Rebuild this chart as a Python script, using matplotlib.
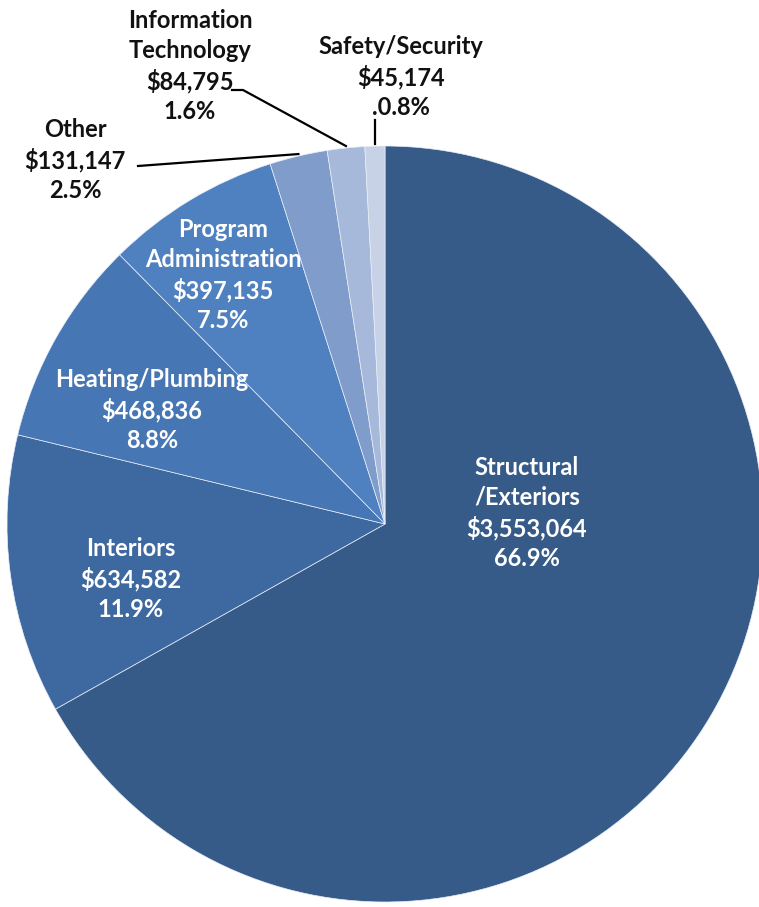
import numpy as np
import matplotlib.pyplot as plt

W, H = 759, 907

categories = ["Structural\n/Exteriors", "Interiors", "Heating/Plumbing",
              "Program\nAdministration", "Other", "Information\nTechnology",
              "Safety/Security"]
amounts = [3553064, 634582, 468836, 397135, 131147, 84795, 45174]
pct_labels = ["66.9%", "11.9%", "8.8%", "7.5%", "2.5%", "1.6%", ".0.8%"]
colors = ["#365b88", "#3e69a0", "#4676b3", "#4f80bf", "#7f9ccb", "#a7b9da", "#c7d2e7"]

plt.rcParams['font.family'] = ['Lato', 'DejaVu Sans']

fig = plt.figure(figsize=(W / 100, H / 100), dpi=100)
ax = fig.add_axes([0, 0, 1, 1])
ax.set_aspect('equal')

cx, cy, r = 385, H - 524, 378

wedges, _ = ax.pie(amounts, colors=colors, startangle=90, counterclock=False,
                   center=(cx, cy), radius=r, frame=True,
                   wedgeprops=dict(edgecolor='#e8eef7', linewidth=0.5))
ax.set_xlim(0, W)
ax.set_ylim(0, H)
ax.axis('off')


def label_text(i):
    return f"{categories[i]}\n${amounts[i]:,}\n{pct_labels[i]}"


# label centres in pixel coords (x, y from top)
inside = {0: (527, 513), 1: (131, 579), 2: (152, 410), 3: (223, 275)}
outside = {4: (75, 160), 5: (190, 66), 6: (401, 77)}

for i, (x, y) in inside.items():
    ax.text(x, H - y, label_text(i), ha='center', va='center', color='white',
            fontsize=17, fontweight='bold', linespacing=1.36)
for i, (x, y) in outside.items():
    ax.text(x, H - y, label_text(i), ha='center', va='center', color='#111111',
            fontsize=17, fontweight='bold', linespacing=1.36)


def edge_point(i):
    w = wedges[i]
    ang = np.deg2rad((w.theta1 + w.theta2) / 2)
    return cx + r * np.cos(ang), cy + r * np.sin(ang)

# leader lines for the small slices
ex, ey = edge_point(4)
ax.plot([138, ex], [H - 166, ey + 2], color='black', lw=1.6)
ex, ey = edge_point(5)
ax.plot([232, 243, ex], [H - 90, H - 90, ey + 2], color='black', lw=1.6)
ex, ey = edge_point(6)
ax.plot([ex, ex], [H - 120, ey + 2], color='black', lw=1.6)

fig.savefig("out.png", dpi=100)
